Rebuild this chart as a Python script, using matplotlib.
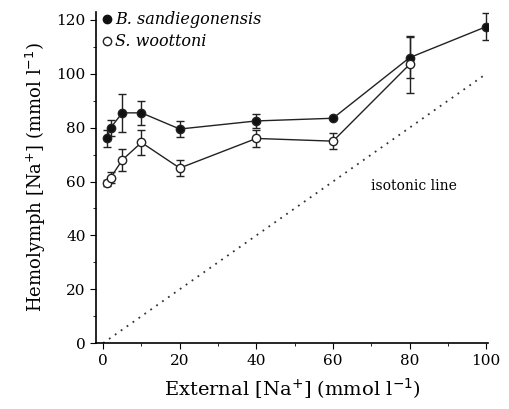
import matplotlib
matplotlib.use('Agg')
import matplotlib.pyplot as plt
from matplotlib.ticker import MultipleLocator
from matplotlib.lines import Line2D

plt.rcParams['font.family'] = ['DejaVu Serif']

ext_b = [1, 2, 5, 10, 20, 40, 60, 80, 100]
hem_b = [76, 80, 85.5, 85.5, 79.5, 82.5, 83.5, 106, 117.5]
err_b = [3, 3, 7, 4.5, 3, 2.5, 0, 7.5, 5]

ext_s = [1, 2, 5, 10, 20, 40, 60, 80]
hem_s = [59.5, 61.5, 68, 74.5, 65, 76, 75, 103.5]
err_s = [1, 2, 4, 4.5, 3, 3, 3, 10.5]

iso_x = [0, 100]
iso_y = [0, 100]

fig = plt.figure(figsize=(5.09, 4.09), dpi=100)
ax = fig.add_axes([0.189, 0.161, 0.77, 0.81])

ax.plot(iso_x, iso_y, color='#333333', linestyle=(0, (1, 3)), linewidth=1.3)
ax.errorbar(ext_b, hem_b, yerr=err_b, color='#222222', marker='o', markersize=6,
            markerfacecolor='#111111', linewidth=1, elinewidth=1, capsize=3, zorder=3)
ax.errorbar(ext_s, hem_s, yerr=err_s, color='#222222', marker='o', markersize=6,
            markerfacecolor='white', linewidth=1, elinewidth=1, capsize=3, zorder=3)

ax.text(70, 57, 'isotonic line', fontsize=10)

ax.set_xlim(-1.8, 100.5)
ax.set_ylim(0, 123)
ax.xaxis.set_major_locator(MultipleLocator(20))
ax.xaxis.set_minor_locator(MultipleLocator(10))
ax.yaxis.set_major_locator(MultipleLocator(20))
ax.yaxis.set_minor_locator(MultipleLocator(10))
ax.tick_params(which='major', length=4, labelsize=11)
ax.tick_params(which='minor', length=2.5)
ax.spines['top'].set_visible(False)
ax.spines['right'].set_visible(False)
ax.spines['left'].set_linewidth(1.2)
ax.spines['bottom'].set_linewidth(1.2)

ax.set_xlabel('External [Na$^{+}$] (mmol l$^{-1}$)', fontsize=14, labelpad=6)
ax.set_ylabel('Hemolymph [Na$^{+}$] (mmol l$^{-1}$)', fontsize=13, labelpad=6)

handles = [
    Line2D([], [], linestyle='none', marker='o', markersize=6, color='#111111'),
    Line2D([], [], linestyle='none', marker='o', markersize=6, color='#222222',
           markerfacecolor='white'),
]
ax.legend(handles, ['B. sandiegonensis', 'S. woottoni'], loc='upper left',
          bbox_to_anchor=(-0.03, 1.045), frameon=False,
          prop={'style': 'italic', 'size': 11.5},
          handletextpad=0.0, handlelength=1.0, labelspacing=0.3)

fig.savefig('out.png', dpi=100)
